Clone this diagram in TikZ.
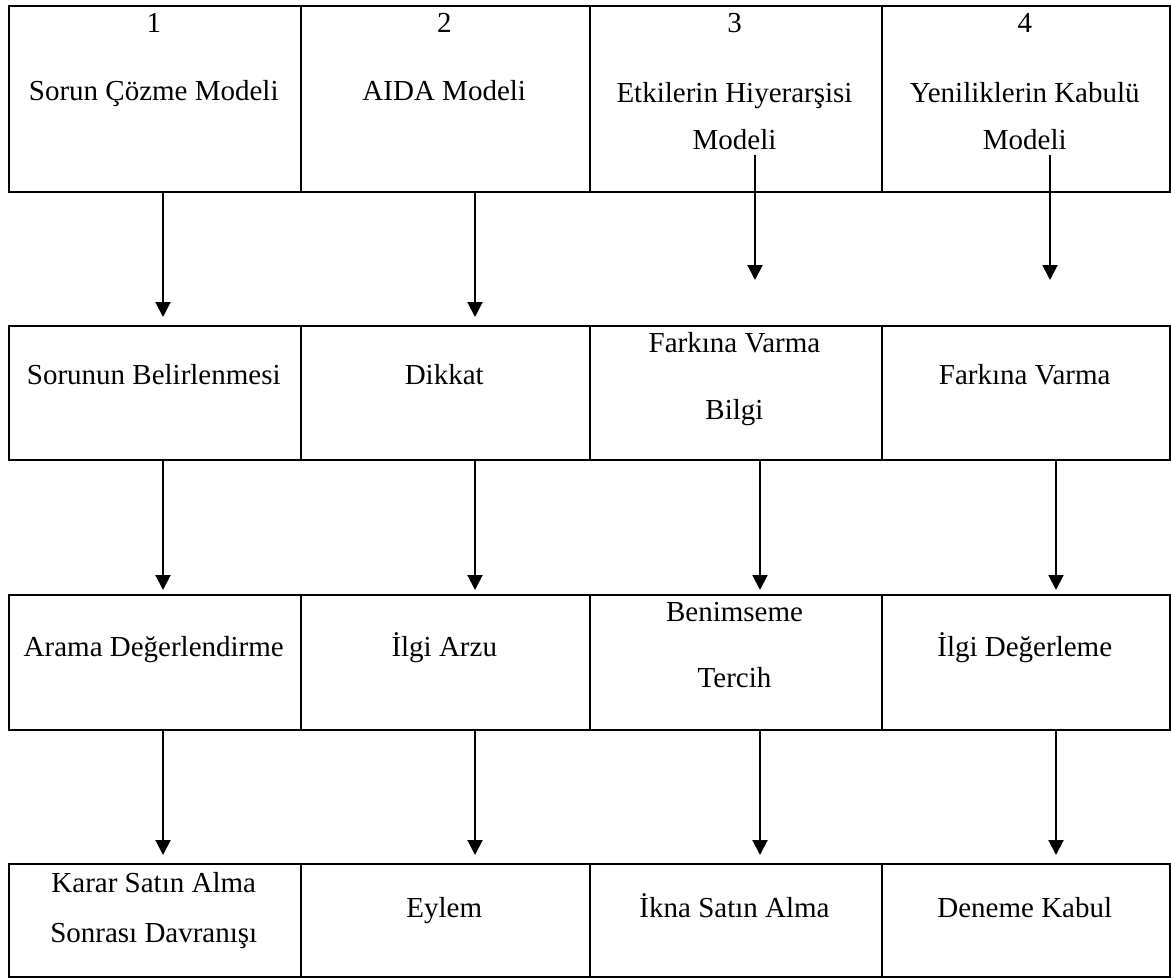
\documentclass[tikz,border=0pt]{standalone}
\usepackage{fontspec}
\setmainfont{Liberation Serif}
\usetikzlibrary{arrows.meta,calc}
\begin{document}
\begin{tikzpicture}[x=1pt,y=-1pt,
  cell/.style={draw,line width=2pt,rectangle,inner sep=0pt,anchor=north west},
  txt/.style={inner sep=0pt,anchor=base,font=\fontsize{29}{35}\selectfont},
  arr/.style={line width=2pt,-{Triangle[width=15pt,length=15pt]}}]
\useasboundingbox (0,0) rectangle (1171,980);
% row 1
\node[cell,minimum width=292.5pt,minimum height=186pt] (c11) at (7.5,5) {};
\node[cell,minimum width=288.5pt,minimum height=186pt] (c12) at (300,5) {};
\node[cell,minimum width=292pt,minimum height=186pt] (c13) at (588.5,5) {};
\node[cell,minimum width=288.5pt,minimum height=186pt] (c14) at (880.5,5) {};
% row 2
\node[cell,minimum width=292.5pt,minimum height=134pt] (c21) at (7.5,325) {};
\node[cell,minimum width=288.5pt,minimum height=134pt] (c22) at (300,325) {};
\node[cell,minimum width=292pt,minimum height=134pt] (c23) at (588.5,325) {};
\node[cell,minimum width=288.5pt,minimum height=134pt] (c24) at (880.5,325) {};
% row 3
\node[cell,minimum width=292.5pt,minimum height=135pt] (c31) at (7.5,594) {};
\node[cell,minimum width=288.5pt,minimum height=135pt] (c32) at (300,594) {};
\node[cell,minimum width=292pt,minimum height=135pt] (c33) at (588.5,594) {};
\node[cell,minimum width=288.5pt,minimum height=135pt] (c34) at (880.5,594) {};
% row 4
\node[cell,minimum width=292.5pt,minimum height=113pt] (c41) at (7.5,863) {};
\node[cell,minimum width=288.5pt,minimum height=113pt] (c42) at (300,863) {};
\node[cell,minimum width=292pt,minimum height=113pt] (c43) at (588.5,863) {};
\node[cell,minimum width=288.5pt,minimum height=113pt] (c44) at (880.5,863) {};
% texts row 1
\node[txt] (t11a) at (153.75,32) {1};
\node[txt] (t11b) at (153.75,100) {Sorun Çözme Modeli};
\node[txt] (t12a) at (444.25,32) {2};
\node[txt] (t12b) at (444.25,100) {AIDA Modeli};
\node[txt] (t13a) at (734.5,32) {3};
\node[txt] (t13b) at (734.5,102) {Etkilerin Hiyerarşisi};
\node[txt] (t13c) at (734.5,149) {Modeli};
\node[txt] (t14a) at (1024.75,32) {4};
\node[txt] (t14b) at (1024.75,102) {Yeniliklerin Kabulü};
\node[txt] (t14c) at (1024.75,149) {Modeli};
% texts row 2
\node[txt] (t21) at (153.75,384) {Sorunun Belirlenmesi};
\node[txt] (t22) at (444.25,384) {Dikkat};
\node[txt] (t23a) at (734.5,352) {Farkına Varma};
\node[txt] (t23b) at (734.5,419) {Bilgi};
\node[txt] (t24) at (1024.75,384) {Farkına Varma};
% texts row 3
\node[txt] (t31) at (153.75,656) {Arama Değerlendirme};
\node[txt] (t32) at (444.25,656) {İlgi Arzu};
\node[txt] (t33a) at (734.5,621) {Benimseme};
\node[txt] (t33b) at (734.5,687) {Tercih};
\node[txt] (t34) at (1024.75,656) {İlgi Değerleme};
% texts row 4
\node[txt] (t41a) at (153.75,892) {Karar Satın Alma};
\node[txt] (t41b) at (153.75,942) {Sonrası Davranışı};
\node[txt] (t42) at (444.25,917) {Eylem};
\node[txt] (t43) at (734.5,917) {İkna Satın Alma};
\node[txt] (t44) at (1024.75,917) {Deneme Kabul};
% arrow columns
\coordinate (a1) at (163,0);
\coordinate (a2) at (475,0);
\coordinate (a3) at (755,0);
\coordinate (a3b) at (760,0);
\coordinate (a4) at (1050,0);
\coordinate (a4b) at (1056,0);
% row 1 -> row 2
\draw[arr,shorten >=8pt] (c11.south -| a1) -- (c21.north -| a1);
\draw[arr,shorten >=8pt] (c12.south -| a2) -- (c22.north -| a2);
\draw[arr,shorten >=45pt] ([yshift=38pt]c13.south -| a3) -- (c23.north -| a3);
\draw[arr,shorten >=45pt] ([yshift=38pt]c14.south -| a4) -- (c24.north -| a4);
% row 2 -> row 3
\draw[arr,shorten >=4pt] (c21.south -| a1) -- (c31.north -| a1);
\draw[arr,shorten >=4pt] (c22.south -| a2) -- (c32.north -| a2);
\draw[arr,shorten >=4pt] (c23.south -| a3b) -- (c33.north -| a3b);
\draw[arr,shorten >=4pt] (c24.south -| a4b) -- (c34.north -| a4b);
% row 3 -> row 4
\draw[arr,shorten >=8pt] (c31.south -| a1) -- (c41.north -| a1);
\draw[arr,shorten >=8pt] (c32.south -| a2) -- (c42.north -| a2);
\draw[arr,shorten >=8pt] (c33.south -| a3b) -- (c43.north -| a3b);
\draw[arr,shorten >=8pt] (c34.south -| a4b) -- (c44.north -| a4b);
\end{tikzpicture}
\end{document}
